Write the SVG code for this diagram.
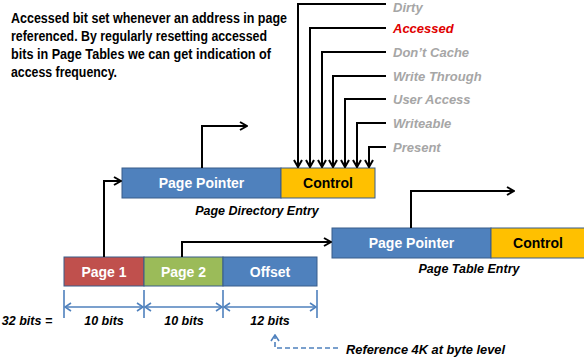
<svg xmlns="http://www.w3.org/2000/svg" width="584" height="361" viewBox="0 0 584 361">
  <defs>
    <marker id="arr" viewBox="0 0 10 10" refX="9" refY="5" markerWidth="10" markerHeight="10" markerUnits="userSpaceOnUse" orient="auto">
      <path d="M2,1 L9,5 L2,9" fill="none" stroke="#000" stroke-width="2"/>
    </marker>
    <marker id="dimArr" viewBox="0 0 10 10" refX="9" refY="5" markerWidth="10" markerHeight="10" markerUnits="userSpaceOnUse" orient="auto-start-reverse">
      <path d="M3,1 L9,5 L3,9" fill="none" stroke="#4f81bd" stroke-width="1.6"/>
    </marker>
  </defs>
  <style>
    text { font-family: "Liberation Sans", Arial, sans-serif; font-weight: bold; }
    .note { font-size: 14px; fill: #000; }
    .flag { font-size: 13px; font-style: italic; fill: #a6a6a6; }
    .flag.hot { fill: #e00000; }
    .cap { font-size: 12.5px; font-style: italic; fill: #000; text-anchor: middle; }
    .lbl { font-size: 14px; fill: #fff; text-anchor: middle; }
    .lbl.dark { fill: #000; }
    .wire { fill: none; stroke: #000; stroke-width: 2; }
    .dim { fill: none; stroke: #4f81bd; stroke-width: 1.6; }
    .cell { stroke: #385d8a; stroke-width: 1; }
  </style>

  <rect width="584" height="361" fill="#fff"/>

  <!-- explanatory note -->
  <text class="note" x="11" y="23" textLength="276" lengthAdjust="spacingAndGlyphs">Accessed bit set whenever an address in page</text>
  <text class="note" x="11" y="41" textLength="256" lengthAdjust="spacingAndGlyphs">referenced. By regularly resetting accessed</text>
  <text class="note" x="11" y="59" textLength="260" lengthAdjust="spacingAndGlyphs">bits in Page Tables we can get indication of</text>
  <text class="note" x="11" y="77" textLength="106" lengthAdjust="spacingAndGlyphs">access frequency.</text>

  <!-- control flag labels -->
  <text class="flag" x="393" y="12">Dirty</text>
  <text class="flag hot" x="393" y="33">Accessed</text>
  <text class="flag" x="393" y="57">Don’t Cache</text>
  <text class="flag" x="393" y="81">Write Through</text>
  <text class="flag" x="393" y="104">User Access</text>
  <text class="flag" x="393" y="128">Writeable</text>
  <text class="flag" x="393" y="152">Present</text>

  <!-- Page Directory Entry -->
  <g id="pde-pointer">
    <rect class="cell" x="122" y="168" width="159" height="30" fill="#4f81bd"/>
    <text class="lbl" x="201.5" y="188">Page Pointer</text>
  </g>
  <g id="pde-control">
    <rect class="cell" x="281" y="168" width="94" height="30" fill="#ffc000"/>
    <text class="lbl dark" x="328" y="188">Control</text>
  </g>
  <text class="cap" x="257" y="215">Page Directory Entry</text>

  <!-- Page Table Entry -->
  <g id="pte-pointer">
    <rect class="cell" x="332" y="228" width="159" height="30" fill="#4f81bd"/>
    <text class="lbl" x="411.5" y="248">Page Pointer</text>
  </g>
  <g id="pte-control">
    <rect class="cell" x="491" y="228" width="100" height="30" fill="#ffc000"/>
    <text class="lbl dark" x="538" y="248">Control</text>
  </g>
  <text class="cap" x="469" y="273">Page Table Entry</text>

  <!-- linear address fields -->
  <g id="page1">
    <rect class="cell" x="64" y="257" width="80" height="29" fill="#c0504d"/>
    <text class="lbl" x="104" y="276.5">Page 1</text>
  </g>
  <g id="page2">
    <rect class="cell" x="144" y="257" width="79" height="29" fill="#9bbb59"/>
    <text class="lbl" x="183.5" y="276.5">Page 2</text>
  </g>
  <g id="offset">
    <rect class="cell" x="223" y="257" width="94" height="29" fill="#4f81bd"/>
    <text class="lbl" x="270" y="276.5">Offset</text>
  </g>

  <!-- connectors -->
  <g id="connectors">
    <path class="wire" d="M386,4 H298 V167" marker-end="url(#arr)"/>
    <path class="wire" d="M386,28 H310 V167" marker-end="url(#arr)"/>
    <path class="wire" d="M386,52 H322 V167" marker-end="url(#arr)"/>
    <path class="wire" d="M386,76 H333 V167" marker-end="url(#arr)"/>
    <path class="wire" d="M386,99 H345 V167" marker-end="url(#arr)"/>
    <path class="wire" d="M386,123 H357 V167" marker-end="url(#arr)"/>
    <path class="wire" d="M386,147 H369 V167" marker-end="url(#arr)"/>

    <path class="wire" d="M202,168 V126 H247" marker-end="url(#arr)"/>
    <path class="wire" d="M104,257 V181 H121" marker-end="url(#arr)"/>
    <path class="wire" d="M182,257 V242 H331" marker-end="url(#arr)"/>
    <path class="wire" d="M411,228 V191 H514" marker-end="url(#arr)"/>
  </g>

  <!-- bit width dimensions -->
  <g id="dimensions">
    <path class="dim" d="M64,290 V318 M144,290 V318 M223,290 V318 M317,290 V318"/>
    <path class="dim" d="M65,307 H143" marker-start="url(#dimArr)" marker-end="url(#dimArr)"/>
    <path class="dim" d="M145,307 H222" marker-start="url(#dimArr)" marker-end="url(#dimArr)"/>
    <path class="dim" d="M224,307 H316" marker-start="url(#dimArr)" marker-end="url(#dimArr)"/>
    <path d="M338,348 H275 V335" fill="none" stroke="#4f81bd" stroke-width="1.6" stroke-dasharray="5,3" marker-end="url(#dimArr)"/>
  </g>

  <text class="cap" x="27" y="325">32 bits =</text>
  <text class="cap" x="104" y="325">10 bits</text>
  <text class="cap" x="184" y="325">10 bits</text>
  <text class="cap" x="270" y="325">12 bits</text>
  <text class="cap" x="425.5" y="354" textLength="159" lengthAdjust="spacingAndGlyphs">Reference 4K at byte level</text>
</svg>
